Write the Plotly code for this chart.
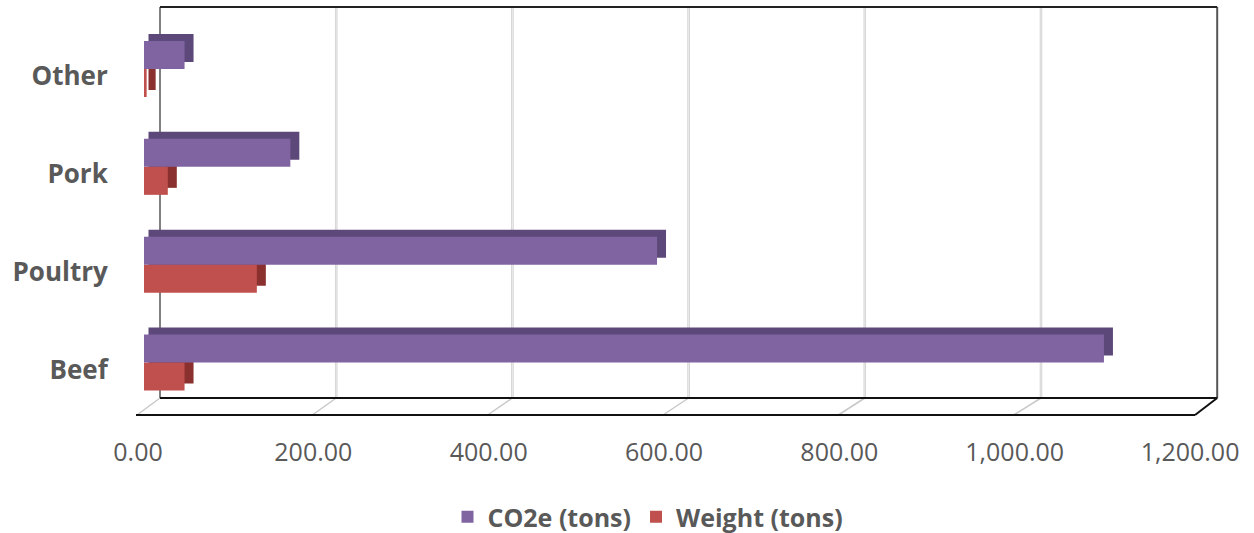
import plotly.graph_objects as go

# ---- data ----
categories = ["Beef", "Poultry", "Pork", "Other"]
co2e_tons = [1089, 582, 166, 46]
weight_tons = [46, 128, 27, 3]
tick_values = [0, 200, 400, 600, 800, 1000, 1200]
tick_labels = ["0.00", "200.00", "400.00", "600.00", "800.00", "1,000.00", "1,200.00"]

# ---- geometry / style ----
W, H = 1254, 533
PL, PR, PT, PB = 130, 1230, 7, 415          # plot area in pixels
BAR0, BARK = 144, 0.8815                     # bar axis: px of 0, px per unit
LAB0, LABK = 138, 0.8767                     # front-floor (label) scale
BACK0, BACKK = 160, 0.881                    # back-wall scale
BACK_FLOOR = 398
CAT_PX = 97.83
CAT0_Y = 362.5
BW = 28 / CAT_PX                             # bar thickness in category units
DY = 7 / CAT_PX                              # depth (vertical) in category units
DX = 9 / BARK                                # depth (horizontal) in value units

purple, purple_dark = "#8064A2", "#5D4979"
red, red_dark = "#C0504D", "#8A302E"
txt = "#595959"
FONT = "Open Sans"

x_rng = [(PL - BAR0) / BARK, (PR - BAR0) / BARK]
lab_rng = [(PL - LAB0) / LABK, (PR - LAB0) / LABK]
y_rng = [-(PB - CAT0_Y) / CAT_PX, 3 + (CAT0_Y - 3 * CAT_PX - PT) / CAT_PX]

fig = go.Figure()
# depth faces (drawn behind the fronts)
fig.add_trace(go.Bar(y=categories, x=[v + DX / 2 for v in weight_tons], base=DX / 2,
                     orientation="h", offset=-BW + DY, width=BW, marker_color=red_dark,
                     marker_line_width=0, showlegend=False, hoverinfo="skip"))
fig.add_trace(go.Bar(y=categories, x=weight_tons, orientation="h", name="Weight (tons)",
                     offset=-BW, width=BW, marker_color=red, marker_line_width=0,
                     legendrank=2))
fig.add_trace(go.Bar(y=categories, x=[v + DX / 2 for v in co2e_tons], base=DX / 2,
                     orientation="h", offset=DY, width=BW, marker_color=purple_dark,
                     marker_line_width=0, showlegend=False, hoverinfo="skip"))
fig.add_trace(go.Bar(y=categories, x=co2e_tons, orientation="h", name="CO2e (tons)",
                     offset=0, width=BW, marker_color=purple, marker_line_width=0,
                     legendrank=1))
# invisible carrier for the front-floor tick-label axis
fig.add_trace(go.Scatter(x=tick_values, y=[categories[0]] * len(tick_values), xaxis="x2",
                         mode="markers", marker=dict(opacity=0, size=1),
                         showlegend=False, hoverinfo="skip"))


def px2paper(px, py):
    return (px - PL) / (PR - PL), (PB - py) / (PB - PT)


shapes = []


def line(x0, y0, x1, y1, color, width):
    a, b = px2paper(x0, y0)
    c, d = px2paper(x1, y1)
    shapes.append(dict(type="line", xref="paper", yref="paper", x0=a, y0=b, x1=c, y1=d,
                       line=dict(color=color, width=width), layer="below"))


# back-wall gridlines and floor diagonals
for v in tick_values:
    bx = BACK0 + BACKK * v
    fx = LAB0 + LABK * v - 1
    if 0 < v < tick_values[-1]:
        line(bx, PT, bx, BACK_FLOOR, "#cfcfcf", 2.5)
        line(bx, PT, bx, BACK_FLOOR, "#f2f2f2", 0.8)
    if v < tick_values[-1]:
        line(bx, BACK_FLOOR, fx, PB, "#c8c8c8", 1.5)
xl = BACK0
xr = BACK0 + BACKK * tick_values[-1]
fr = LAB0 + LABK * tick_values[-1] + 5
line(xl, PT, xl, BACK_FLOOR, "#808080", 2)
line(xr, PT, xr, BACK_FLOOR, "#555555", 2)
line(xl, PT, xr, PT, "#222222", 2)
line(xl, BACK_FLOOR, xr, BACK_FLOOR, "#111111", 2)
line(LAB0 - 2, PB, fr, PB, "#111111", 2)
line(fr, PB, xr, BACK_FLOOR, "#111111", 2)

fig.update_layout(
    width=W, height=H,
    margin=dict(l=PL, r=W - PR, t=PT, b=H - PB, pad=0, autoexpand=False),
    paper_bgcolor="white", plot_bgcolor="rgba(0,0,0,0)",
    barmode="overlay",
    font=dict(family=FONT, color=txt),
    shapes=shapes,
    xaxis=dict(range=x_rng, showgrid=False, zeroline=False, showticklabels=False,
               showline=False, fixedrange=True, automargin=False),
    xaxis2=dict(range=lab_rng, overlaying="x", side="bottom", tickvals=tick_values,
                ticktext=tick_labels, showgrid=False, zeroline=False, showline=False,
                ticks="outside", ticklen=15, tickcolor="rgba(0,0,0,0)",
                tickfont=dict(size=25, color=txt, family=FONT), anchor="y",
                automargin=False),
    yaxis=dict(range=y_rng, showgrid=False, zeroline=False, showline=False,
               ticks="outside", ticklen=16, tickcolor="rgba(0,0,0,0)",
               ticklabelshift=7, automargin=False,
               tickfont=dict(size=26, color=txt, family=FONT, weight="bold")),
    legend=dict(orientation="h", xref="container", yref="container",
                x=648 / W, xanchor="center", y=(H - 517) / H, yanchor="middle",
                font=dict(size=25, color=txt, family=FONT, weight="bold"),
                traceorder="normal"),
    showlegend=True,
)
fig.write_html("out.html", config={"displayModeBar": False},
               post_script="document.body.style.margin='0';document.body.style.padding='0';")
